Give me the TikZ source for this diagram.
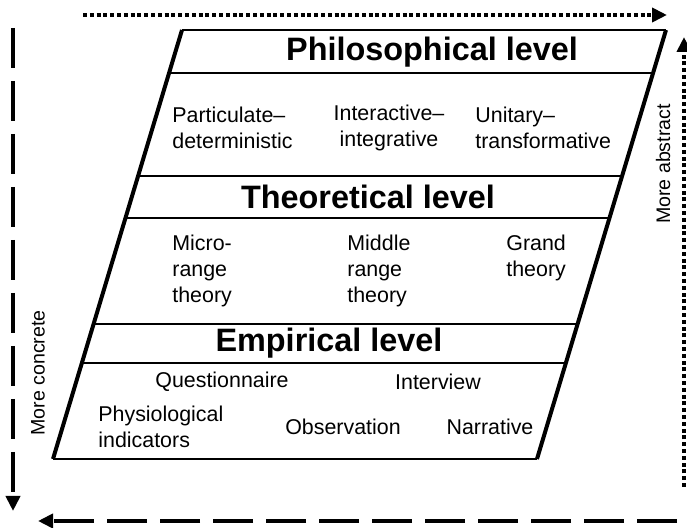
\documentclass[tikz,border=0pt]{standalone}
\usepackage{fontspec}
\setmainfont{Liberation Sans}
\usetikzlibrary{arrows.meta}

\tikzset{
  lvltitle/.style={font=\fontsize{16.2}{19}\selectfont\bfseries, inner sep=0pt},
  entry/.style={font=\fontsize{10.7}{13}\selectfont, inner sep=0pt},
  sidelabel/.style={font=\fontsize{9.8}{12}\selectfont, inner sep=0pt, rotate=90},
  dotarrow/.style={line width=2pt, dash pattern=on 2pt off 1.4pt, -{Triangle[length=7.5pt,width=7pt]}},
  dasharrow/.style={line width=2.4pt, dash pattern=on 20pt off 6.5pt, -{Triangle[length=7.5pt,width=7pt]}}
}

\begin{document}
\begin{tikzpicture}[x=0.5pt,y=-0.5pt]
\useasboundingbox (0,0) rectangle (687,528);

% Corners of the parallelogram
\coordinate (tl) at (182,30);
\coordinate (tr) at (666,30);
\coordinate (br) at (537,459);
\coordinate (bl) at (53,459);

% Thin top and bottom edges
\draw[line width=0.8pt] (tl) -- (tr);
\draw[line width=0.8pt] (bl) -- (br);

% Band separators
\foreach \y in {73,176,218,324,363}
  \draw[line width=0.8pt] ({182-0.3*(\y-30)},\y) -- ({666-0.3*(\y-30)},\y);

% Thick slanted sides
\draw[line width=2pt] (tl) -- (bl);
\draw[line width=2pt] (tr) -- (br);

% Philosophical level
\node[lvltitle] (philo) at (432,52) {Philosophical level};
\node[entry, anchor=west, align=left] (partic) at (172,128) {Particulate--\\deterministic};
\node[entry, align=center] (inter) at (389,128) {Interactive--\\integrative};
\node[entry, anchor=west, align=left] (unit) at (475,128) {Unitary--\\transformative};

% Theoretical level
\node[lvltitle] (theo) at (368,197) {Theoretical level};
\node[entry, anchor=west, align=left] (micro) at (172,271) {Micro-\\range\\theory};
\node[entry, anchor=west, align=left] (middle) at (347,271) {Middle\\range\\theory};
\node[entry, anchor=west, align=left] (grand) at (506,258) {Grand\\theory};

% Empirical level
\node[lvltitle] (emp) at (329,343) {Empirical level};
\node[entry] (quest) at (222,382) {Questionnaire};
\node[entry] (interv) at (438,382) {Interview};
\node[entry, anchor=west, align=left] (physio) at (98,427) {Physiological\\indicators};
\node[entry] (obs) at (343,427) {Observation};
\node[entry] (narr) at (490,427) {Narrative};

% Side labels
\node[sidelabel] (abstr) at (663,164) {More abstract};
\node[sidelabel] (concr) at (38,373) {More concrete};

% Arrow ends
\coordinate (topA) at (83,15);
\coordinate (topB) at (667,15);
\coordinate (rightA) at (684,487);
\coordinate (rightB) at (684,37);
\coordinate (leftA) at (13,28);
\coordinate (leftB) at (13,511);
\coordinate (botA) at (677,521);
\coordinate (botB) at (38,521);

% Dotted arrows towards the abstract
\draw[dotarrow] (topA) -- (topB);
\draw[dotarrow] (rightA) -- (rightB);

% Dashed arrows towards the concrete
\draw[dasharrow] (leftA) -- (leftB);
\draw[dasharrow] (botA) -- (botB);
\end{tikzpicture}
\end{document}
